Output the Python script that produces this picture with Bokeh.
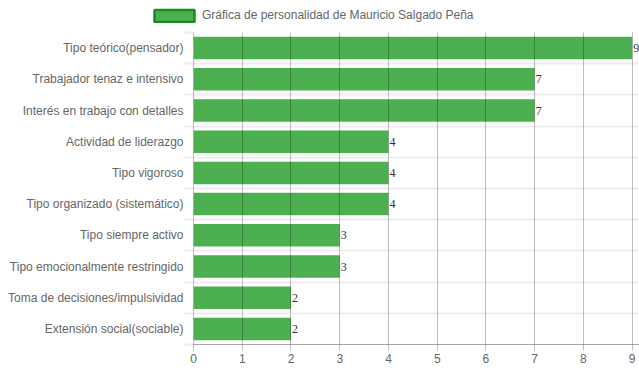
from bokeh.plotting import figure
from bokeh.layouts import column
from bokeh.models import (ColumnDataSource, FixedTicker, Legend, LegendItem,
                          Range1d, LabelSet)
from bokeh.core.properties import value
from bokeh.embed import file_html
from bokeh.resources import INLINE

categories = [
    "Tipo teórico(pensador)",
    "Trabajador tenaz e intensivo",
    "Interés en trabajo con detalles",
    "Actividad de liderazgo",
    "Tipo vigoroso",
    "Tipo organizado (sistemático)",
    "Tipo siempre activo",
    "Tipo emocionalmente restringido",
    "Toma de decisiones/impulsividad",
    "Extensión social(sociable)",
]
values = [9, 7, 7, 4, 4, 4, 3, 3, 2, 2]
x_ticks = [0, 1, 2, 3, 4, 5, 6, 7, 8, 9]
series_name = "Gráfica de personalidad de Mauricio Salgado Peña"

n = len(categories)
ypos = [n - i - 0.5 for i in range(n)]
src = ColumnDataSource(dict(y=ypos, v=values, t=[str(v) for v in values], cat=categories))

FONT = "Liberation Sans"
BAR = "#4caf50"

# ---- legend strip ----
lg = figure(width=639, height=31, x_range=Range1d(0, 1), y_range=Range1d(0, 1),
            output_backend="svg", toolbar_location=None, frame_align=False,
            min_border_left=0, min_border_right=0, min_border_top=0, min_border_bottom=0)
lg.axis.visible = False
lg.grid.visible = False
lg.outline_line_color = None
swatch = lg.hbar(y=[float("nan")], right=[float("nan")], left=0, height=0.5,
                 fill_color=BAR, line_color="#1a8c1a", line_width=2.5)
legend = Legend(items=[LegendItem(label=series_name, renderers=[swatch])],
                location=(149, 8.5), orientation="horizontal",
                glyph_width=50, glyph_height=15, label_standoff=3, label_height=12,
                label_text_font=FONT, label_text_font_size="12px",
                label_text_color="#666666", border_line_color=None,
                background_fill_alpha=0, padding=0, margin=0, spacing=0)
lg.add_layout(legend)

# ---- main chart ----
p = figure(width=639, height=341, x_range=Range1d(0, 9.15), y_range=Range1d(0, n),
           output_backend="svg", toolbar_location=None, frame_align=False,
           min_border_left=193, min_border_right=0, min_border_top=1, min_border_bottom=28)
p.outline_line_color = None
p.background_fill_color = "white"

p.hbar(y="y", right="v", left=0, height=0.72, source=src,
       fill_color=BAR, line_color=None)

labels = LabelSet(x="v", y="y", text="t", source=src, x_offset=1,
                  text_font=value("Liberation Serif"), text_font_size="12px",
                  text_color="#333333", text_baseline="middle", text_align="left")
p.add_layout(labels)

# grids
p.xgrid.ticker = FixedTicker(ticks=x_ticks)
p.xgrid.grid_line_color = "black"
p.xgrid.grid_line_alpha = 0.25
p.xgrid.level = "guide"
p.ygrid.ticker = FixedTicker(ticks=list(range(n + 1)))
p.ygrid.grid_line_color = "black"
p.ygrid.grid_line_alpha = 0.07
p.ygrid.grid_line_width = 2

# y axis
ya = p.yaxis[0]
ya.ticker = FixedTicker(ticks=ypos, minor_ticks=list(range(n + 1)))
ya.major_label_overrides = {y: c for y, c in zip(ypos, categories)}
ya.axis_line_color = "black"
ya.axis_line_alpha = 0.25
ya.major_tick_line_color = None
ya.major_tick_out = 0
ya.major_tick_in = 0
ya.minor_tick_line_color = "black"
ya.minor_tick_line_alpha = 0.07
ya.minor_tick_line_width = 2
ya.minor_tick_out = 10
ya.minor_tick_in = 0
ya.major_label_standoff = 0
ya.major_label_text_font = FONT
ya.major_label_text_font_size = "12px"
ya.major_label_text_color = "#666666"

# x axis
xa = p.xaxis[0]
xa.ticker = FixedTicker(ticks=x_ticks)
xa.axis_line_color = "black"
xa.axis_line_alpha = 0.35
xa.major_tick_line_color = "black"
xa.major_tick_line_alpha = 0.25
xa.major_tick_out = 6
xa.major_tick_in = 0
xa.minor_tick_line_color = None
xa.major_label_standoff = 3
xa.major_label_text_font = FONT
xa.major_label_text_font_size = "12px"
xa.major_label_text_color = "#666666"

layout = column(lg, p, spacing=0)
open("out.html", "w").write(file_html(layout, INLINE))
